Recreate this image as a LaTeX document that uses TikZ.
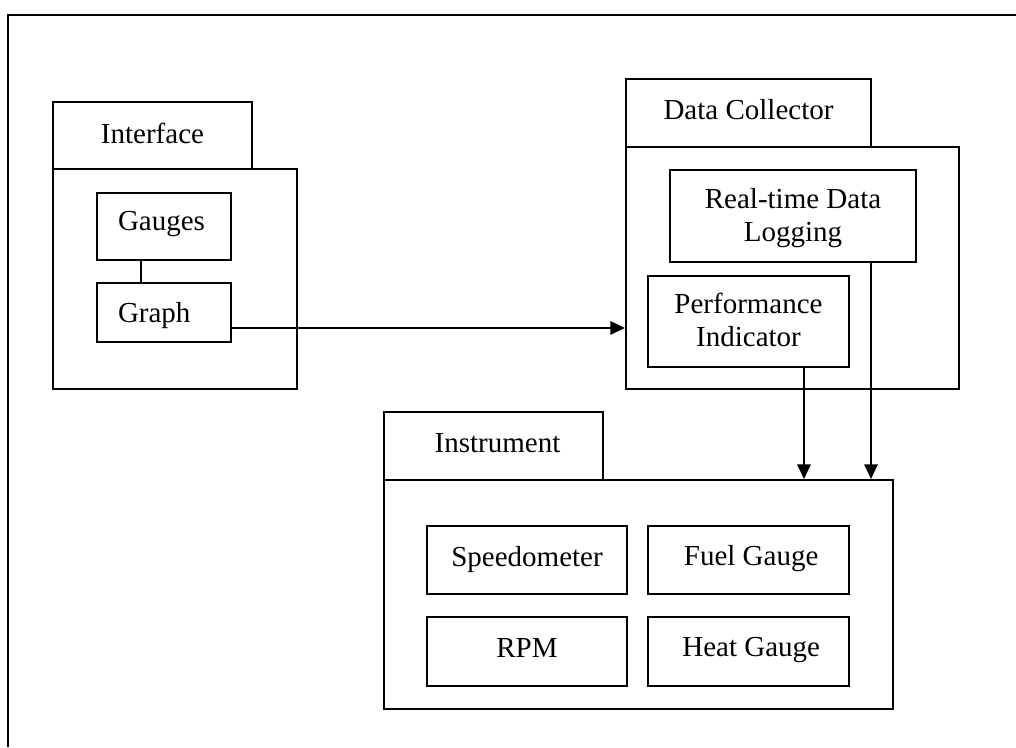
\documentclass[tikz,border=0pt]{standalone}
\usepackage{fontspec}
\setmainfont{Liberation Serif}
\usetikzlibrary{fit,arrows.meta}
\begin{document}
\begin{tikzpicture}[x=0.75pt,y=-0.75pt,
  line width=1.5pt,
  box/.style={draw,fit={#1},inner sep=0pt},
  txt/.style={font=\fontsize{21.75}{24.75}\selectfont,align=center,inner sep=0pt,anchor=base},
  lbl/.style={txt,anchor=base west},
  arr/.style={-{Triangle[length=11pt,width=10pt]}}]
\useasboundingbox (0,0) rectangle (1016,747);

% page frame (top and left rule)
\draw (1016,15) -- (8,15) -- (8,747);

% Interface package
\node[box={(53,102)(252,169)}] (ifTab) {};
\node[txt] at (ifTab |- 0,143) {Interface};
\node[box={(53,169)(297,389)}] (ifBody) {};
\node[box={(97,193)(231,260)}] (gauges) {};
\node[lbl] at (117,230) {Gauges};
\node[box={(97,283)(231,342)}] (graph) {};
\node[lbl] at (117,322) {Graph};
\draw (gauges.south -| 141,0) -- (graph.north -| 141,0);

% Data Collector package (two-line labels are placed by their last baseline)
\node[box={(626,79)(871,147)}] (dcTab) {};
\node[txt] at (dcTab |- 0,119) {Data Collector};
\node[box={(626,147)(959,389)}] (dcBody) {};
\node[box={(670,170)(916,262)}] (logging) {};
\node[txt] at (logging |- 0,241) {Real-time Data\\Logging};
\node[box={(648,276)(849,367)}] (perf) {};
\node[txt] at (perf |- 0,346) {Performance\\Indicator};

% Instrument package
\node[box={(384,412)(603,480)}] (instTab) {};
\node[txt] at ([xshift=3pt]instTab |- 0,452) {Instrument};
\node[box={(384,480)(893,709)}] (instBody) {};
\node[box={(427,526)(627,594)}] (speedo) {};
\node[txt] at (speedo |- 0,566) {Speedometer};
\node[box={(648,526)(849,594)}] (fuel) {};
\node[txt] at ([xshift=2pt]fuel |- 0,565) {Fuel Gauge};
\node[box={(427,617)(627,686)}] (rpm) {};
\node[txt] at (rpm |- 0,657) {RPM};
\node[box={(648,617)(849,686)}] (heat) {};
\node[txt] at ([xshift=2pt]heat |- 0,656) {Heat Gauge};

% connectors
\path ([yshift=-11.6pt]graph.east) coordinate (gout);
\draw[arr] (gout) -- (gout -| dcBody.west);
\path ([xshift=41.6pt]perf.south) coordinate (pout);
\draw[arr] (pout) -- (pout |- instBody.north);
\path ([xshift=58.5pt]logging.south) coordinate (lout);
\draw[arr] (lout) -- (lout |- instBody.north);
\end{tikzpicture}
\end{document}
